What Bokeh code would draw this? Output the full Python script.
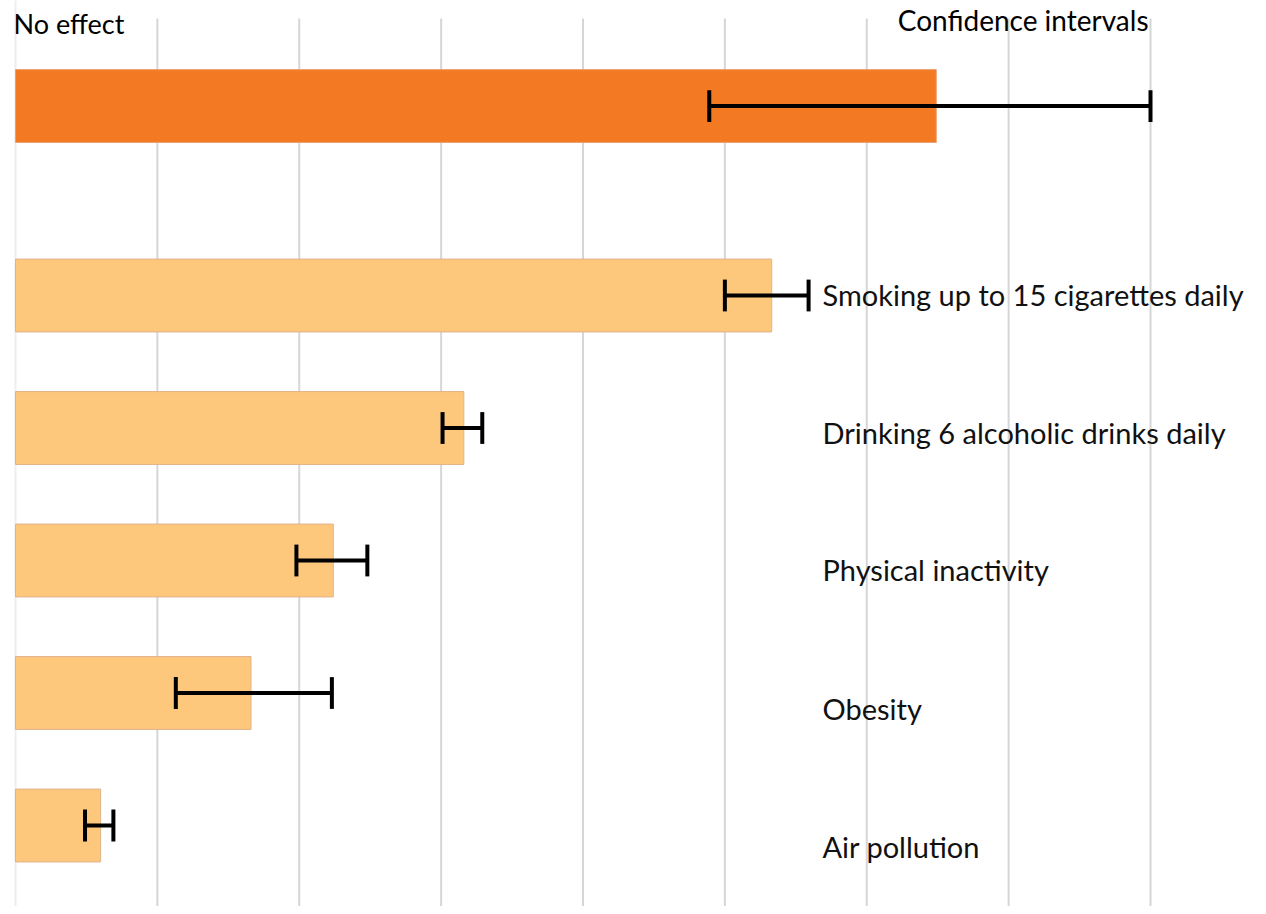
from bokeh.plotting import figure
from bokeh.models import ColumnDataSource, Range1d
from bokeh.core.properties import value
from bokeh.embed import file_html
from bokeh.resources import INLINE

# ---- data ----
categories = ["", "Smoking up to 15 cigarettes daily", "Drinking 6 alcoholic drinks daily",
              "Physical inactivity", "Obesity", "Air pollution"]
effect = [6.49, 5.33, 3.16, 2.24, 1.66, 0.60]
ci_low = [4.89, 5.00, 3.01, 1.98, 1.13, 0.49]
ci_high = [8.00, 5.59, 3.29, 2.48, 2.23, 0.69]
grid_ticks = [0, 1, 2, 3, 4, 5, 6, 7, 8]

# ---- layout helpers ----
n = len(categories)
top_gap = 0.43
ypos = [n - 1 - i + (top_gap if i == 0 else 0) for i in range(n)]
label_shift = [0, -0.008, 0.035, 0.065, 0.115, 0.155]
label_y = [y - s for y, s in zip(ypos, label_shift)]
colors = ["#F37A22"] + ["#FDC77C"] * (n - 1)
outline = ["#e8a070"] + ["#e2b28c"] * (n - 1)

W, H = 1250, 906
px_per_x = 141.875
px_per_y = 132.5
x0 = -15 / px_per_x
y_top = 825 / px_per_y
p = figure(width=W, height=H, output_backend="svg", toolbar_location=None,
           x_range=Range1d(x0, x0 + W / px_per_x),
           y_range=Range1d(y_top - H / px_per_y, y_top),
           min_border=0, outline_line_color=None)
p.axis.visible = False
p.grid.visible = False

# grid lines
g_top = (825 - 18) / px_per_y
g_bot = y_top - H / px_per_y - 0.1
p.segment(x0=grid_ticks[1:], x1=grid_ticks[1:], y0=[g_bot] * 8, y1=[g_top] * 8,
          line_color="#d6d6d6", line_width=2)
p.segment(x0=[0], x1=[0], y0=[g_bot], y1=[y_top + 0.1], line_color="#eeeeee", line_width=2)

src = ColumnDataSource(dict(y=ypos, right=effect, lo=ci_low, hi=ci_high,
                            color=colors, outline=outline,
                            cap0=[y - 0.12 for y in ypos], cap1=[y + 0.12 for y in ypos]))
p.hbar(y="y", left=0, right="right", height=0.55, fill_color="color",
       line_color="outline", line_width=1, source=src)

# confidence intervals
p.segment(x0="lo", x1="hi", y0="y", y1="y", line_color="black", line_width=4, source=src)
p.segment(x0="lo", x1="lo", y0="cap0", y1="cap1", line_color="black", line_width=4, source=src)
p.segment(x0="hi", x1="hi", y0="cap0", y1="cap1", line_color="black", line_width=4, source=src)

lab_x = (822 - 15) / px_per_x
p.text(x=[lab_x] * (n - 1), y=label_y[1:], text=categories[1:],
       text_font=value("Lato"), text_font_size="29px", text_color="#111111",
       text_baseline="middle", text_align="left")

p.text(x=[(13 - 15) / px_per_x], y=[(825 - 23) / px_per_y], text=["No effect"],
       text_font=value("Lato"), text_font_size="27px", text_color="#000000",
       text_baseline="middle", text_align="left")
p.text(x=[(1148 - 15) / px_per_x], y=[(825 - 19) / px_per_y], text=["Confidence intervals"],
       text_font=value("Lato"), text_font_size="28px", text_color="#000000",
       text_baseline="middle", text_align="right")

open("out.html", "w").write(file_html(p, INLINE))
